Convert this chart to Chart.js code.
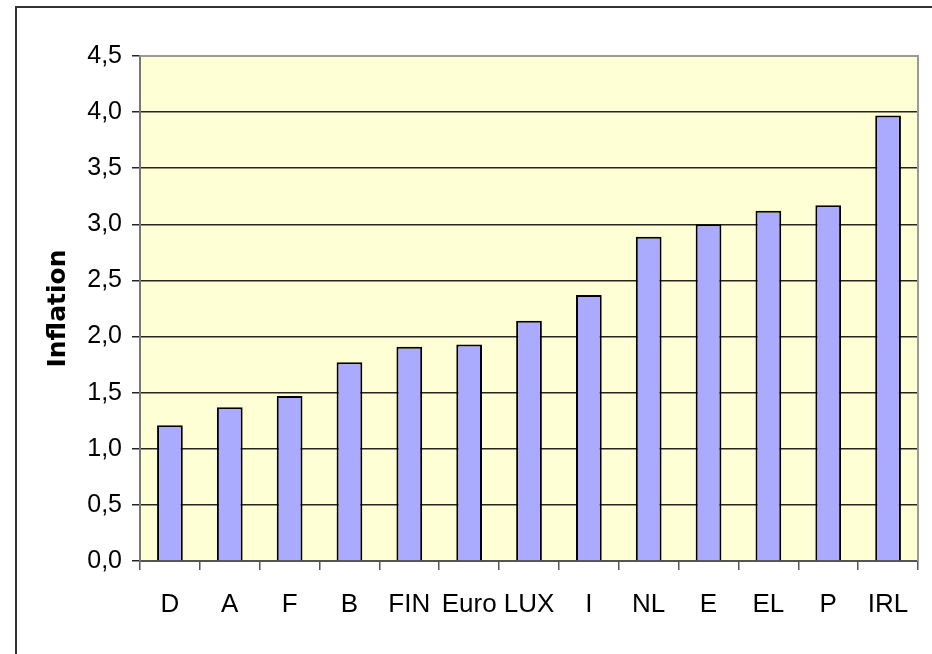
<!DOCTYPE html>
<html lang="en">
<head>
    <meta charset="UTF-8">
    <title>Inflation</title>
    <style>
        html, body { margin: 0; padding: 0; background: #fff; overflow: hidden; }
        .frame {
            position: absolute; left: 15px; top: 6px; width: 2000px; height: 2000px;
            border-left: 2px solid #333; border-top: 2px solid #333;
        }
        #chart { position: absolute; left: 0; top: 0; }
    </style>
</head>
<body>
    <div class="frame"></div>
    <canvas id="chart" width="932" height="654"></canvas>

    <script src="https://cdn.jsdelivr.net/npm/chart.js"></script>
    <script>
        const countries = ['D', 'A', 'F', 'B', 'FIN', 'Euro', 'LUX', 'I', 'NL', 'E', 'EL', 'P', 'IRL'];
        const inflation = [1.21, 1.37, 1.47, 1.77, 1.91, 1.93, 2.14, 2.37, 2.89, 3.00, 3.12, 3.17, 3.97];
        const yTicks = [0, 0.5, 1, 1.5, 2, 2.5, 3, 3.5, 4, 4.5];

        // pale yellow plot area with grey top/right edges
        const plotBox = {
            id: 'plotBox',
            beforeDraw(chart) {
                const { ctx, chartArea: a } = chart;
                ctx.save();
                ctx.fillStyle = '#ffffd6';
                ctx.fillRect(a.left, a.top, a.right - a.left, a.bottom - a.top);
                ctx.restore();
            },
            afterDatasetsDraw(chart) {
                const { ctx, chartArea: a } = chart;
                ctx.save();
                ctx.strokeStyle = '#9a9a9a';
                ctx.lineWidth = 2;
                ctx.beginPath();
                ctx.moveTo(a.left, a.top);
                ctx.lineTo(a.right, a.top);
                ctx.lineTo(a.right, a.bottom);
                ctx.stroke();
                ctx.restore();
            }
        };

        new Chart(document.getElementById('chart'), {
            type: 'bar',
            data: {
                labels: countries,
                datasets: [{
                    data: inflation,
                    backgroundColor: '#aaaaff',
                    borderColor: '#000',
                    borderWidth: 2,
                    barPercentage: 0.43,
                    categoryPercentage: 1
                }]
            },
            options: {
                responsive: false,
                animation: false,
                layout: { padding: { top: 56, right: 14, left: 0, bottom: 0 } },
                plugins: {
                    legend: { display: false },
                    tooltip: { enabled: false }
                },
                scales: {
                    x: {
                        grid: {
                            display: true,
                            drawOnChartArea: false,
                            offset: true,
                            tickLength: 9,
                            color: '#555',
                            lineWidth: 1.5
                        },
                        border: { color: '#555', width: 2 },
                        ticks: {
                            color: '#000',
                            padding: 19,
                            maxRotation: 0,
                            autoSkip: false,
                            font: { family: "'Liberation Sans Narrow', 'Liberation Sans', Arial", size: 26 }
                        },
                        afterFit(scale) { scale.height = 93; }
                    },
                    y: {
                        min: 0,
                        max: 4.5,
                        afterBuildTicks(scale) { scale.ticks = yTicks.map(v => ({ value: v })); },
                        grid: {
                            color: 'rgba(0,0,0,0.85)',
                            lineWidth: 1.5,
                            tickLength: 8
                        },
                        border: { color: '#777', width: 2 },
                        ticks: {
                            color: '#000',
                            padding: 10,
                            font: { family: "'Liberation Sans', Arial", size: 25 },
                            callback: v => v.toFixed(1).replace('.', ',')
                        },
                        title: {
                            display: true,
                            text: 'Inflation',
                            color: '#000',
                            padding: { top: 43, bottom: 0 },
                            font: { family: "'DejaVu Sans'", size: 25, weight: 'bold' }
                        },
                        afterFit(scale) { scale.width = 140; }
                    }
                }
            },
            plugins: [plotBox]
        });
    </script>
</body>
</html>
